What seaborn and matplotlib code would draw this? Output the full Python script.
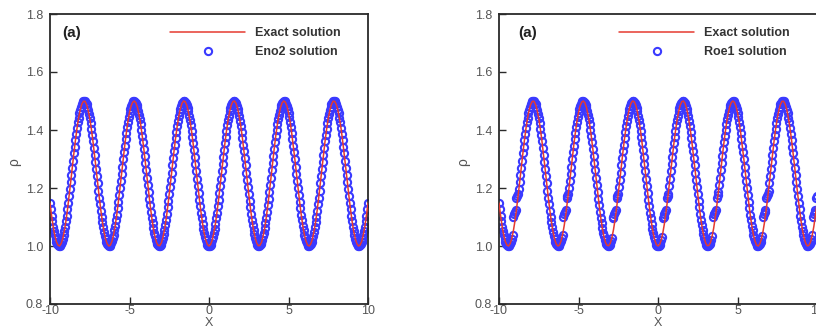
import matplotlib
matplotlib.use("Agg")
import matplotlib.pyplot as plt
import seaborn as sns

# ---------------- data ----------------
x_exact = [round(-10 + 0.1 * i, 1) for i in range(201)]
x_scheme = [round(-10 + 0.05 * i, 2) for i in range(401)]

exact_rho = [
    1.148,
    1.105, 1.067, 1.037, 1.015, 1.003, 1.000, 1.008, 1.025, 1.051, 1.085,
    1.126, 1.172, 1.220, 1.270, 1.319, 1.365, 1.407, 1.442, 1.470, 1.489,
    1.499, 1.499, 1.488, 1.468, 1.440, 1.404, 1.362, 1.315, 1.266, 1.216,
    1.167, 1.122, 1.082, 1.049, 1.023, 1.007, 1.000, 1.003, 1.017, 1.039,
    1.070, 1.108, 1.152, 1.199, 1.249, 1.299, 1.346, 1.390, 1.429, 1.460,
    1.483, 1.496, 1.500, 1.494, 1.478, 1.453, 1.420, 1.380, 1.335, 1.286,
    1.236, 1.187, 1.140, 1.098, 1.061, 1.033, 1.012, 1.002, 1.001, 1.010,
    1.029, 1.056, 1.091, 1.133, 1.179, 1.228, 1.278, 1.327, 1.373, 1.413,
    1.448, 1.474, 1.492, 1.500, 1.498, 1.486, 1.464, 1.434, 1.397, 1.354,
    1.307, 1.257, 1.208, 1.159, 1.115, 1.076, 1.044, 1.020, 1.005,
    1.000, 1.005, 1.020, 1.044, 1.076, 1.115, 1.159, 1.208, 1.257, 1.307,
    1.354, 1.397, 1.434, 1.464, 1.486, 1.498, 1.500, 1.492, 1.474, 1.448,
    1.413, 1.373, 1.327, 1.278, 1.228, 1.179, 1.133, 1.091, 1.056, 1.029,
    1.010, 1.001, 1.002, 1.012, 1.033, 1.061, 1.098, 1.140, 1.187, 1.236,
    1.286, 1.335, 1.380, 1.420, 1.453, 1.478, 1.494, 1.500, 1.496, 1.483,
    1.460, 1.429, 1.390, 1.346, 1.299, 1.249, 1.199, 1.152, 1.108, 1.070,
    1.039, 1.017, 1.003, 1.000, 1.007, 1.023, 1.049, 1.082, 1.122, 1.167,
    1.216, 1.266, 1.315, 1.362, 1.404, 1.440, 1.468, 1.488, 1.499, 1.499,
    1.489, 1.470, 1.442, 1.407, 1.365, 1.319, 1.270, 1.220, 1.172, 1.126,
    1.085, 1.051, 1.025, 1.008, 1.000, 1.003, 1.015, 1.037, 1.067, 1.105,
    1.148,
]

eno2_rho = [
    1.148,
    1.126, 1.105, 1.085, 1.067, 1.051, 1.037, 1.025, 1.015, 1.008, 1.003,
    1.000, 1.000, 1.003, 1.008, 1.015, 1.025, 1.037, 1.051, 1.067, 1.085,
    1.104, 1.126, 1.148, 1.172, 1.195, 1.220, 1.244, 1.270, 1.294, 1.319,
    1.342, 1.365, 1.387, 1.407, 1.426, 1.442, 1.458, 1.470, 1.481, 1.489,
    1.495, 1.499, 1.500, 1.499, 1.494, 1.488, 1.479, 1.468, 1.455, 1.440,
    1.423, 1.404, 1.383, 1.362, 1.339, 1.315, 1.291, 1.266, 1.241, 1.216,
    1.191, 1.167, 1.144, 1.122, 1.101, 1.082, 1.064, 1.049, 1.035, 1.023,
    1.014, 1.007, 1.002, 1.000, 1.001, 1.003, 1.009, 1.017, 1.027, 1.039,
    1.054, 1.070, 1.088, 1.108, 1.130, 1.152, 1.175, 1.199, 1.224, 1.249,
    1.274, 1.299, 1.323, 1.346, 1.370, 1.390, 1.410, 1.429, 1.445, 1.460,
    1.472, 1.483, 1.491, 1.496, 1.499, 1.500, 1.498, 1.494, 1.487, 1.478,
    1.466, 1.453, 1.437, 1.420, 1.401, 1.380, 1.358, 1.335, 1.311, 1.286,
    1.261, 1.236, 1.212, 1.187, 1.163, 1.140, 1.118, 1.098, 1.079, 1.061,
    1.046, 1.033, 1.021, 1.012, 1.006, 1.002, 1.000, 1.001, 1.004, 1.010,
    1.018, 1.029, 1.041, 1.056, 1.073, 1.091, 1.111, 1.133, 1.156, 1.179,
    1.203, 1.228, 1.253, 1.278, 1.303, 1.327, 1.350, 1.373, 1.394, 1.413,
    1.432, 1.448, 1.462, 1.474, 1.484, 1.492, 1.497, 1.500, 1.500, 1.498,
    1.493, 1.486, 1.476, 1.464, 1.450, 1.434, 1.417, 1.397, 1.376, 1.354,
    1.331, 1.307, 1.282, 1.257, 1.232, 1.208, 1.183, 1.159, 1.137, 1.115,
    1.095, 1.076, 1.059, 1.044, 1.031, 1.020, 1.011, 1.005, 1.001,
    1.000, 1.001, 1.005, 1.011, 1.020, 1.031, 1.044, 1.059, 1.076, 1.095,
    1.115, 1.137, 1.159, 1.183, 1.208, 1.232, 1.257, 1.282, 1.307, 1.331,
    1.354, 1.376, 1.397, 1.417, 1.434, 1.450, 1.464, 1.476, 1.486, 1.493,
    1.498, 1.500, 1.500, 1.497, 1.492, 1.484, 1.474, 1.462, 1.448, 1.432,
    1.413, 1.394, 1.373, 1.350, 1.327, 1.303, 1.278, 1.253, 1.228, 1.203,
    1.179, 1.156, 1.133, 1.111, 1.091, 1.073, 1.056, 1.041, 1.029, 1.018,
    1.010, 1.004, 1.001, 1.000, 1.002, 1.006, 1.012, 1.021, 1.033, 1.046,
    1.061, 1.079, 1.098, 1.118, 1.140, 1.163, 1.187, 1.212, 1.236, 1.261,
    1.286, 1.311, 1.335, 1.358, 1.380, 1.401, 1.420, 1.437, 1.453, 1.466,
    1.478, 1.487, 1.494, 1.498, 1.500, 1.499, 1.496, 1.491, 1.483, 1.472,
    1.460, 1.445, 1.429, 1.410, 1.390, 1.370, 1.346, 1.323, 1.299, 1.274,
    1.249, 1.224, 1.199, 1.175, 1.152, 1.130, 1.108, 1.088, 1.070, 1.054,
    1.039, 1.027, 1.017, 1.009, 1.003, 1.001, 1.000, 1.002, 1.007, 1.014,
    1.023, 1.035, 1.049, 1.064, 1.082, 1.101, 1.122, 1.144, 1.167, 1.191,
    1.216, 1.241, 1.266, 1.291, 1.315, 1.339, 1.362, 1.383, 1.404, 1.423,
    1.440, 1.455, 1.468, 1.479, 1.488, 1.494, 1.499, 1.500, 1.499, 1.495,
    1.489, 1.481, 1.470, 1.458, 1.442, 1.426, 1.407, 1.387, 1.365, 1.342,
    1.319, 1.294, 1.270, 1.244, 1.220, 1.195, 1.172, 1.148, 1.126, 1.104,
    1.085, 1.067, 1.051, 1.037, 1.025, 1.015, 1.008, 1.003, 1.000, 1.000,
    1.003, 1.008, 1.015, 1.025, 1.037, 1.051, 1.067, 1.085, 1.105, 1.126,
    1.148,
]

roe1_rho = [
    1.148,
    1.126, 1.105, 1.085, 1.067, 1.051, 1.037, 1.025, 1.015, 1.008, 1.003,
    1.000, 1.000, 1.003, 1.008, 1.015, 1.025, 1.037, 1.100, 1.110, 1.117,
    1.125, 1.165, 1.172, 1.180, 1.195, 1.220, 1.244, 1.270, 1.294, 1.319,
    1.342, 1.365, 1.387, 1.407, 1.426, 1.442, 1.458, 1.470, 1.481, 1.489,
    1.495, 1.499, 1.500, 1.499, 1.494, 1.488, 1.479, 1.468, 1.455, 1.440,
    1.423, 1.404, 1.383, 1.362, 1.339, 1.315, 1.291, 1.266, 1.241, 1.216,
    1.191, 1.167, 1.144, 1.122, 1.101, 1.082, 1.064, 1.049, 1.035, 1.023,
    1.014, 1.007, 1.002, 1.000, 1.001, 1.003, 1.009, 1.017, 1.027, 1.039,
    1.100, 1.110, 1.117, 1.125, 1.165, 1.172, 1.180, 1.199, 1.224, 1.249,
    1.274, 1.299, 1.323, 1.346, 1.370, 1.390, 1.410, 1.429, 1.445, 1.460,
    1.472, 1.483, 1.491, 1.496, 1.499, 1.500, 1.498, 1.494, 1.487, 1.478,
    1.466, 1.453, 1.437, 1.420, 1.401, 1.380, 1.358, 1.335, 1.311, 1.286,
    1.261, 1.236, 1.212, 1.187, 1.163, 1.140, 1.118, 1.098, 1.079, 1.061,
    1.046, 1.033, 1.021, 1.012, 1.006, 1.002, 1.000, 1.001, 1.004, 1.010,
    1.018, 1.029, 1.095, 1.100, 1.110, 1.117, 1.125, 1.165, 1.172, 1.180,
    1.203, 1.228, 1.253, 1.278, 1.303, 1.327, 1.350, 1.373, 1.394, 1.413,
    1.432, 1.448, 1.462, 1.474, 1.484, 1.492, 1.497, 1.500, 1.500, 1.498,
    1.493, 1.486, 1.476, 1.464, 1.450, 1.434, 1.417, 1.397, 1.376, 1.354,
    1.331, 1.307, 1.282, 1.257, 1.232, 1.208, 1.183, 1.159, 1.137, 1.115,
    1.095, 1.076, 1.059, 1.044, 1.031, 1.020, 1.011, 1.005, 1.001,
    1.000, 1.001, 1.005, 1.011, 1.020, 1.031, 1.095, 1.100, 1.110, 1.117,
    1.125, 1.165, 1.172, 1.180, 1.208, 1.232, 1.257, 1.282, 1.307, 1.331,
    1.354, 1.376, 1.397, 1.417, 1.434, 1.450, 1.464, 1.476, 1.486, 1.493,
    1.498, 1.500, 1.500, 1.497, 1.492, 1.484, 1.474, 1.462, 1.448, 1.432,
    1.413, 1.394, 1.373, 1.350, 1.327, 1.303, 1.278, 1.253, 1.228, 1.203,
    1.179, 1.156, 1.133, 1.111, 1.091, 1.073, 1.056, 1.041, 1.029, 1.018,
    1.010, 1.004, 1.001, 1.000, 1.002, 1.006, 1.012, 1.021, 1.033, 1.100,
    1.110, 1.112, 1.117, 1.125, 1.165, 1.175, 1.187, 1.212, 1.236, 1.261,
    1.286, 1.311, 1.335, 1.358, 1.380, 1.401, 1.420, 1.437, 1.453, 1.466,
    1.478, 1.487, 1.494, 1.498, 1.500, 1.499, 1.496, 1.491, 1.483, 1.472,
    1.460, 1.445, 1.429, 1.410, 1.390, 1.370, 1.346, 1.323, 1.299, 1.274,
    1.249, 1.224, 1.199, 1.175, 1.152, 1.130, 1.108, 1.088, 1.070, 1.054,
    1.039, 1.027, 1.017, 1.009, 1.003, 1.001, 1.000, 1.002, 1.007, 1.014,
    1.023, 1.035, 1.100, 1.110, 1.117, 1.125, 1.165, 1.172, 1.180, 1.191,
    1.216, 1.241, 1.266, 1.291, 1.315, 1.339, 1.362, 1.383, 1.404, 1.423,
    1.440, 1.455, 1.468, 1.479, 1.488, 1.494, 1.499, 1.500, 1.499, 1.495,
    1.489, 1.481, 1.470, 1.458, 1.442, 1.426, 1.407, 1.387, 1.365, 1.342,
    1.319, 1.294, 1.270, 1.244, 1.220, 1.195, 1.172, 1.148, 1.126, 1.104,
    1.085, 1.067, 1.051, 1.037, 1.025, 1.015, 1.008, 1.003, 1.000, 1.000,
    1.003, 1.008, 1.015, 1.025, 1.037, 1.100, 1.110, 1.117, 1.125, 1.165,
    1.172,
]

panel_tags = ["(a)", "(a)"]
exact_label = "Exact solution"
scheme_labels = ["Eno2 solution", "Roe1 solution"]
x_ticks = [-10, -5, 0, 5, 10]
y_ticks = [0.8, 1.0, 1.2, 1.4, 1.6, 1.8]
x_title = "X"
y_title = "ρ"

# ---------------- style ----------------
sns.set_theme(style="ticks")
plt.rcParams["font.family"] = ["Liberation Sans", "DejaVu Sans"]

RED = "#e53a30"
BLUE = "#3a3aff"
SPINE = "#2a2a2a"
TXT = "#555555"

W, H = 816, 335
fig = plt.figure(figsize=(W / 100, H / 100), dpi=100)
ax_l = fig.add_axes([50 / W, 31 / H, 318 / W, 290 / H])
ax_r = fig.add_axes([499 / W, 31 / H, 318 / W, 290 / H])

for ax, num_rho, lab, tag, tag_x in [
    (ax_l, eno2_rho, scheme_labels[0], panel_tags[0], 0.04),
    (ax_r, roe1_rho, scheme_labels[1], panel_tags[1], 0.06),
]:
    sns.lineplot(x=x_scheme, y=num_rho, ax=ax, linestyle="none", marker="o",
                 markersize=5.2, markerfacecolor="none", markeredgecolor=BLUE,
                 markeredgewidth=1.5, color=BLUE, label=lab, errorbar=None,
                 sort=False)
    sns.lineplot(x=x_exact, y=exact_rho, ax=ax, color=RED, linewidth=1.1,
                 label=exact_label, errorbar=None, sort=False, zorder=3)

    ax.set_xlim(-10, 10)
    ax.set_ylim(0.8, 1.8)
    ax.set_xticks(x_ticks)
    ax.set_yticks(y_ticks)
    ax.set_xticklabels([str(t) for t in x_ticks])
    ax.set_yticklabels([f"{t:.1f}" for t in y_ticks])
    ax.tick_params(direction="in", length=5, width=1, color=SPINE,
                   labelsize=9, labelcolor=TXT)
    ax.tick_params(axis="x", pad=1)
    ax.tick_params(axis="y", pad=5)
    for s in ax.spines.values():
        s.set_visible(True)
        s.set_color(SPINE)
        s.set_linewidth(1.3)

    ax.set_xlabel(x_title, fontsize=9, color=TXT)
    ax.set_ylabel(y_title, fontsize=10, color=TXT)
    ax.xaxis.set_label_coords(0.5, -0.045)
    ax.yaxis.set_label_coords(-0.09, 0.49)

    ax.text(tag_x, 0.934, tag, transform=ax.transAxes, fontsize=11,
            fontweight="bold", color="#222222", va="center", ha="left")

    handles, labels = ax.get_legend_handles_labels()
    order = [labels.index(exact_label), labels.index(lab)]
    ax.legend([handles[i] for i in order], [labels[i] for i in order],
              loc="upper left", bbox_to_anchor=(0.378, 0.955), frameon=False,
              borderpad=0, borderaxespad=0, handlelength=6, handletextpad=0.8,
              labelspacing=0.55, prop={"size": 9, "weight": "bold"},
              labelcolor="#333333", numpoints=1)

fig.savefig("out.png", dpi=100)
